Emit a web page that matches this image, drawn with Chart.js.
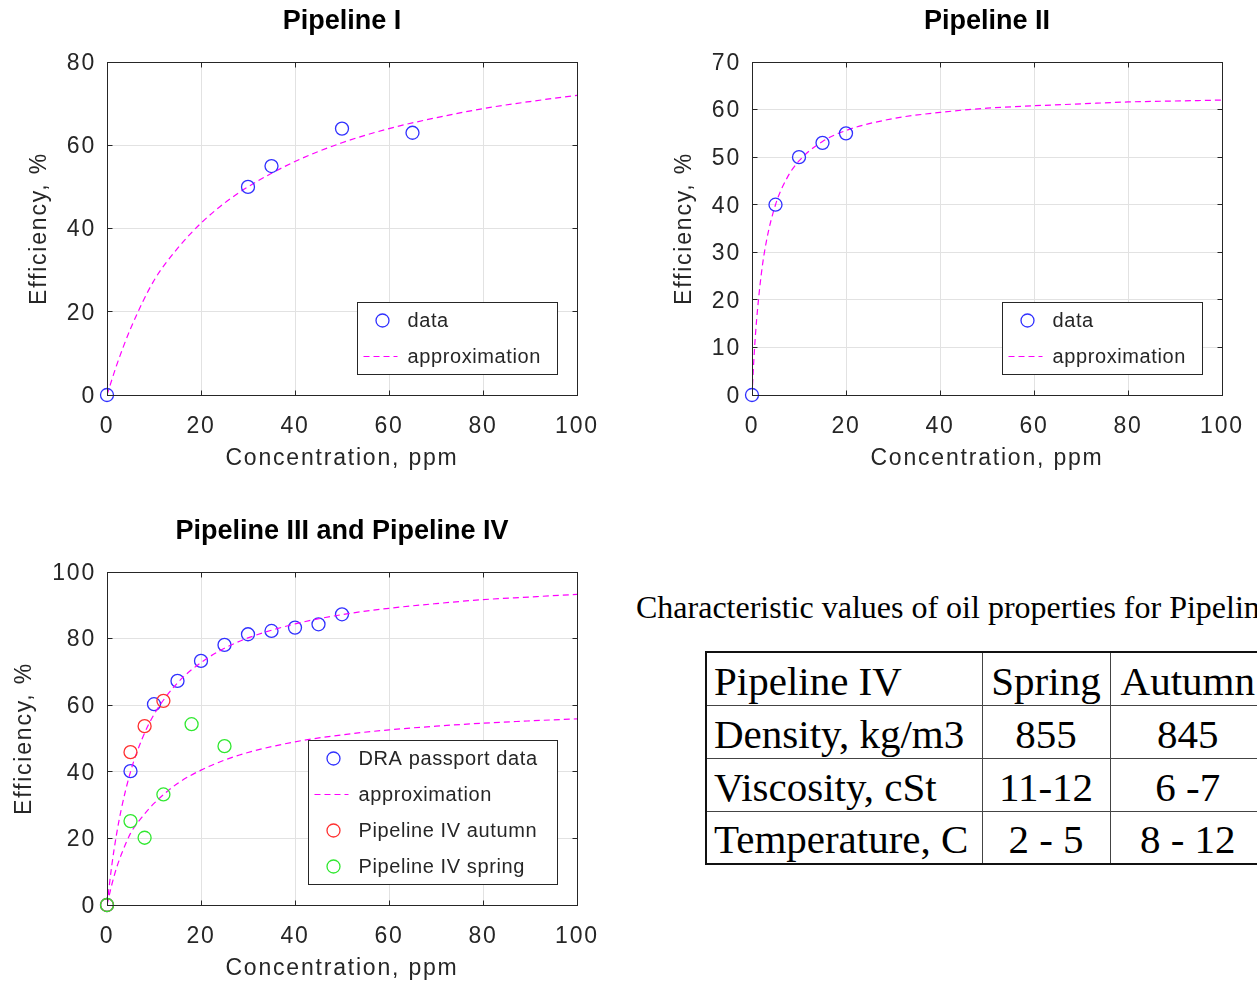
<!DOCTYPE html>
<html>
<head>
<meta charset="utf-8">
<title>DRA efficiency</title>
<script src="https://cdn.jsdelivr.net/npm/chart.js@4.4.1/dist/chart.umd.min.js"></script>
<style>
  html, body { margin: 0; padding: 0; background: #fff; }
  body { width: 1257px; height: 987px; position: relative; overflow: hidden; }
  canvas { position: absolute; }
  #c1 { left: 0; top: 0; }
  #c2 { left: 645px; top: 0; }
  #c3 { left: 0; top: 510px; }
  .caption {
    position: absolute; left: 636px; top: 589px;
    font: 32px "Liberation Serif", "Times New Roman", serif;
    white-space: nowrap; color: #000;
  }
  #props {
    position: absolute; left: 705px; top: 651px; width: 560px;
    border-collapse: collapse; table-layout: fixed;
    border: 2px solid #111;
    font: 41px "Liberation Serif", "Times New Roman", serif; color: #000;
  }
  #props tr { height: 53px; }
  #props td {
    border: 1px solid #444; padding: 4px 7px 0 7px;
    line-height: 44px; white-space: nowrap; vertical-align: middle;
  }
  #props td.c { text-align: center; }
</style>
</head>
<body>
<canvas id="c1" width="628" height="480"></canvas>
<canvas id="c2" width="628" height="480"></canvas>
<canvas id="c3" width="628" height="480"></canvas>

<div class="caption">Characteristic values of oil properties for Pipeline IV</div>
<table id="props">
  <colgroup><col style="width:276px"><col style="width:128px"><col style="width:156px"></colgroup>
  <tbody></tbody>
</table>

<script>
// Pipeline I: measured points and fitted curve (concentration ppm -> efficiency %)
const p1Conc = [0, 30, 35, 50, 65];
const p1Eff = [0, 50, 55, 64, 63];
const p1FitConc = [0, 2, 5, 10, 15, 20, 25, 30, 40, 50, 60, 70, 80, 90, 100];
const p1FitEff = [0, 7.0, 15.9, 27.5, 35.2, 41.3, 46.1, 50.0, 56.1, 60.6, 64.0, 66.6, 68.8, 70.5, 72.0];

// Pipeline II
const p2Conc = [0, 5, 10, 15, 20];
const p2Eff = [0, 40, 50, 53, 55];
const p2FitConc = [0, 0.5, 1, 2, 3, 5, 7.5, 10, 15, 20, 30, 40, 50, 60, 70, 80, 90, 100];
const p2FitEff = [0, 9.2, 16.0, 25.6, 32.0, 40.0, 45.7, 49.2, 53.3, 55.6, 58.1, 59.4, 60.3, 60.8, 61.2, 61.6, 61.8, 62.0];

// Pipeline III (DRA passport) and Pipeline IV seasonal runs
const draConc = [0, 5, 10, 15, 20, 25, 30, 35, 40, 45, 50];
const draEff = [0, 40.2, 60.3, 67.3, 73.3, 78.1, 81.3, 82.3, 83.3, 84.3, 87.3];
const autumnConc = [0, 5, 8, 12];
const autumnEff = [0, 45.9, 53.7, 61.3];
const springConc = [0, 5, 8, 12, 18, 25];
const springEff = [0, 25.2, 20.2, 33.2, 54.3, 47.7];
const fit3Conc = [0, 1, 2, 3, 5, 7.5, 10, 15, 20, 25, 30, 40, 50, 60, 70, 80, 90, 100];
const draFitEff = [0, 11.7, 21.0, 28.5, 40.0, 50.0, 57.2, 66.7, 72.8, 77.1, 80.2, 84.4, 87.2, 89.1, 90.5, 91.7, 92.5, 93.3];
const springFitEff = [0, 6.0, 11.0, 15.0, 21.5, 26.5, 30.5, 36.5, 40.5, 43.5, 45.8, 49.0, 51.1, 52.6, 53.7, 54.6, 55.3, 55.9];

// oil properties table
const propNames = ['Density, kg/m3', 'Viscosity, cSt', 'Temperature, C'];
const springProps = ['855', '11-12', '2 - 5'];
const autumnProps = ['845', '6 -7', '8 - 12'];

const FONT = '"Liberation Sans", Arial, Helvetica, sans-serif';
const INK = '#262626';
const BLUE = '#3030ff';
const RED = '#ff3030';
const GREEN = '#30e830';
const MAGENTA = '#ff00ff';

const pts = (xs, ys) => xs.map((v, i) => ({ x: v, y: ys[i] }));

function markers(label, xs, ys, color) {
  return {
    label, data: pts(xs, ys), showLine: false, clip: false,
    pointStyle: 'circle', pointRadius: 6.5, pointBorderWidth: 1.3,
    borderColor: color, backgroundColor: 'transparent'
  };
}

function fitLine(label, xs, ys) {
  return {
    label, data: pts(xs, ys), showLine: true, fill: false,
    borderColor: MAGENTA, borderWidth: 1.2, borderDash: [6, 4],
    pointRadius: 0, cubicInterpolationMode: 'monotone'
  };
}

// half-pixel snap for crisp 1px strokes
const snap = p => Math.round(p - 0.5) + 0.5;

// MATLAB-like box: frame, inward ticks on all sides, title and an inset legend
const AxesBox = {
  id: 'axesBox',
  beforeDraw(chart) {
    // axis text is a bit tracked out
    chart.ctx.letterSpacing = '1.8px';
  },
  afterDraw(chart, args, opts) {
    const { ctx, chartArea: a, scales: { x, y } } = chart;
    ctx.save();
    const L = snap(a.left), R = snap(a.right), T = snap(a.top), B = snap(a.bottom);

    ctx.strokeStyle = INK;
    ctx.lineWidth = 1;
    ctx.setLineDash([]);
    ctx.strokeRect(L, T, R - L, B - T);
    ctx.beginPath();
    x.ticks.forEach(t => {
      const px = snap(x.getPixelForValue(t.value));
      ctx.moveTo(px, B); ctx.lineTo(px, B - 5);
      ctx.moveTo(px, T); ctx.lineTo(px, T + 5);
    });
    y.ticks.forEach(t => {
      const py = snap(y.getPixelForValue(t.value));
      ctx.moveTo(L, py); ctx.lineTo(L + 5, py);
      ctx.moveTo(R, py); ctx.lineTo(R - 5, py);
    });
    ctx.stroke();

    // title
    ctx.letterSpacing = '0px';
    ctx.fillStyle = '#000';
    ctx.font = 'bold 27px ' + FONT;
    ctx.textAlign = 'center';
    ctx.textBaseline = 'middle';
    ctx.fillText(opts.title, (a.left + a.right) / 2, a.top - 40);

    // legend, lower right corner
    const items = opts.items;
    const w = opts.width, h = items.length * 36;
    const lx = snap(a.right - 20 - w), ly = snap(a.bottom - 21 - h);
    ctx.fillStyle = '#fff';
    ctx.fillRect(lx, ly, w, h);
    ctx.strokeStyle = INK;
    ctx.strokeRect(lx, ly, w, h);

    ctx.font = '20px ' + FONT;
    ctx.letterSpacing = '0.6px';
    ctx.textAlign = 'left';
    items.forEach((it, i) => {
      const cy = ly + 18 + 36 * i;
      ctx.strokeStyle = it.color;
      if (it.line) {
        ctx.lineWidth = 1.2;
        ctx.setLineDash([6, 4]);
        ctx.beginPath();
        ctx.moveTo(lx + 6, cy); ctx.lineTo(lx + 40, cy);
        ctx.stroke();
        ctx.setLineDash([]);
      } else {
        ctx.lineWidth = 1.3;
        ctx.beginPath();
        ctx.arc(lx + 25, cy, 6.5, 0, Math.PI * 2);
        ctx.stroke();
      }
      ctx.fillStyle = INK;
      ctx.fillText(it.label, lx + 50, cy + 1);
    });
    ctx.restore();
  }
};

function axisX() {
  return {
    type: 'linear', min: 0, max: 100,
    ticks: { stepSize: 20, padding: 18, color: INK, font: { family: FONT, size: 23 } },
    grid: { color: '#e2e2e2', drawTicks: false },
    border: { display: false },
    title: {
      display: true, text: 'Concentration, ppm', color: INK,
      font: { family: FONT, size: 23 }, padding: { top: 0, bottom: 8 }
    },
    afterFit(s) { s.height = 85; s.paddingLeft = 0; s.paddingRight = 0; }
  };
}

function axisY(max, step, titleGap) {
  return {
    type: 'linear', min: 0, max,
    ticks: { stepSize: step, padding: 11, labelOffset: 1.5, color: INK, font: { family: FONT, size: 23 } },
    grid: { color: '#e2e2e2', drawTicks: false },
    border: { display: false },
    title: {
      display: true, text: 'Efficiency, %', color: INK,
      font: { family: FONT, size: 23 }, padding: { top: titleGap, bottom: 0 }
    },
    afterFit(s) { s.width = 107; s.paddingTop = 0; s.paddingBottom = 0; }
  };
}

function makeChart(id, datasets, yMax, yStep, titleGap, box) {
  return new Chart(document.getElementById(id), {
    type: 'scatter',
    data: { datasets },
    options: {
      responsive: false,
      animation: false,
      events: [],
      layout: { padding: { left: 0, top: 62, right: 51, bottom: 0 } },
      scales: { x: axisX(), y: axisY(yMax, yStep, titleGap) },
      plugins: {
        legend: { display: false },
        tooltip: { enabled: false },
        axesBox: box
      }
    },
    plugins: [AxesBox]
  });
}

const pairLegend = [
  { label: 'data', color: BLUE },
  { label: 'approximation', color: MAGENTA, line: true }
];

makeChart('c1', [
  markers('data', p1Conc, p1Eff, BLUE),
  fitLine('approximation', p1FitConc, p1FitEff)
], 80, 20, 26, { title: 'Pipeline I', width: 200, items: pairLegend });

makeChart('c2', [
  markers('data', p2Conc, p2Eff, BLUE),
  fitLine('approximation', p2FitConc, p2FitEff)
], 70, 10, 26, { title: 'Pipeline II', width: 200, items: pairLegend });

makeChart('c3', [
  markers('Pipeline IV spring', springConc, springEff, GREEN),
  markers('Pipeline IV autumn', autumnConc, autumnEff, RED),
  fitLine('approximation', fit3Conc, draFitEff),
  fitLine('approximation', fit3Conc, springFitEff),
  markers('DRA passport data', draConc, draEff, BLUE)
], 100, 20, 11, {
  title: 'Pipeline III and Pipeline IV', width: 249,
  items: [
    { label: 'DRA passport data', color: BLUE },
    { label: 'approximation', color: MAGENTA, line: true },
    { label: 'Pipeline IV autumn', color: RED },
    { label: 'Pipeline IV spring', color: GREEN }
  ]
});

// properties table
const tbody = document.querySelector('#props tbody');
const addRow = (cells) => {
  const tr = document.createElement('tr');
  cells.forEach((text, i) => {
    const td = document.createElement('td');
    td.textContent = text;
    if (i > 0) td.className = 'c';
    tr.appendChild(td);
  });
  tbody.appendChild(tr);
};
addRow(['Pipeline IV', 'Spring', 'Autumn']);
propNames.forEach((name, i) => addRow([name, springProps[i], autumnProps[i]]));
</script>
</body>
</html>
